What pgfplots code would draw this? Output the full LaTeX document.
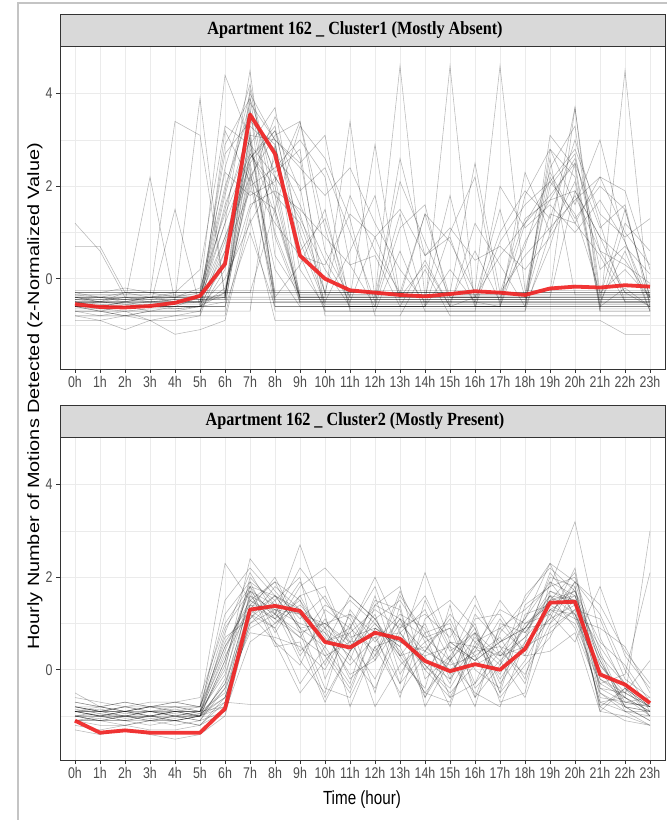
\documentclass[border=0pt]{standalone}
\usepackage{fontspec}
\setmainfont{Liberation Sans}[FakeStretch=0.8]
\newfontfamily\ytfont{Liberation Sans}[FakeStretch=1.22]
\newfontfamily\stfont{Liberation Serif}[FakeStretch=0.87]
\usepackage{pgfplots}
\usepackage{pgfplotstable}
\pgfplotsset{compat=1.18}
\definecolor{stripgray}{HTML}{D9D9D9}
\definecolor{borderc}{HTML}{333333}
\definecolor{gridc}{HTML}{EBEBEB}
\definecolor{labelc}{HTML}{4D4D4D}
\definecolor{meanred}{RGB}{240,36,36}
\definecolor{framec}{HTML}{C4C4C4}

% Cluster 1: one row per day, hours 0h..23h
\pgfplotstableread[header=false]{
-0.45 -0.45 -0.45 -0.45 -0.45 -0.45 -0.45 3.9 2.2 -0.45 -0.45 -0.45 -0.45 -0.45 -0.45 -0.45 -0.45 -0.45 -0.45 -0.45 -0.45 -0.45 -0.45 -0.45
-0.35 -0.35 -0.35 -0.35 -0.35 -0.35 1.2 4.5 0.5 -0.35 -0.35 -0.35 -0.35 -0.35 -0.35 -0.35 -0.35 -0.35 -0.35 2.6 -0.35 -0.35 -0.35 -0.35
-0.55 -0.55 -0.55 -0.55 -0.55 -0.55 0.3 2.9 3.7 0.8 -0.55 -0.55 -0.55 -0.55 -0.55 -0.55 -0.55 -0.55 -0.55 -0.55 -0.55 -0.55 -0.55 -0.55
-0.6 -0.6 -0.6 -0.6 -0.6 -0.4 2.7 3.4 2.9 0.2 -0.6 -0.6 -0.6 -0.6 -0.6 4.6 -0.6 -0.6 -0.6 -0.6 -0.6 -0.6 -0.6 -0.6
-0.3 -0.3 -0.3 -0.3 -0.3 -0.3 -0.3 -0.3 -0.3 -0.3 -0.3 -0.3 -0.3 -0.3 -0.3 -0.3 -0.3 -0.3 -0.3 -0.3 -0.3 -0.3 -0.3 -0.3
-0.5 -0.5 -0.5 -0.5 -0.5 -0.5 -0.5 -0.5 -0.5 -0.5 -0.5 -0.5 -0.5 -0.5 -0.5 -0.5 -0.5 -0.5 -0.5 -0.5 -0.5 -0.5 -0.5 -0.5
-0.65 -0.65 -0.7 -0.65 -0.65 -0.6 -0.5 2.2 3.1 3.4 1.1 -0.65 -0.65 -0.65 -0.65 -0.65 -0.65 -0.65 -0.65 -0.65 -0.65 -0.65 -0.65 -0.65
1.2 0.6 -0.4 -0.4 -0.4 -0.4 -0.4 4.1 1.5 -0.4 -0.4 -0.4 -0.4 4.6 -0.4 -0.4 -0.4 -0.4 -0.4 -0.4 -0.4 -0.4 -0.4 -0.4
0.7 0.7 -0.3 -0.3 -0.3 -0.3 4.4 3.0 -0.3 -0.3 -0.3 -0.3 -0.3 -0.3 -0.3 -0.3 -0.3 -0.3 -0.3 -0.3 3.7 -0.3 -0.3 -0.3
-0.8 -0.8 -0.8 -0.8 -0.8 -0.8 -0.8 1.5 2.6 2.0 -0.8 -0.8 -0.8 -0.8 -0.8 -0.8 -0.8 -0.8 -0.8 -0.8 -0.8 -0.8 -0.8 -0.8
-0.4 -0.5 -0.3 -0.4 -0.4 -0.3 2.0 3.6 1.0 -0.4 -0.4 3.4 -0.4 -0.4 -0.4 -0.4 -0.4 -0.4 -0.4 -0.4 -0.4 -0.4 -0.4 -0.4
-0.25 -0.25 -0.25 -0.25 -0.25 -0.25 -0.25 -0.25 -0.25 -0.25 -0.25 -0.25 -0.25 -0.25 -0.25 -0.25 -0.25 4.6 -0.25 -0.25 -0.25 -0.25 -0.25 -0.25
-0.7 -0.7 -0.7 -0.7 -0.7 -0.7 0.8 2.4 -0.7 -0.7 -0.7 -0.7 -0.7 -0.7 -0.7 -0.7 -0.7 -0.7 -0.7 -0.7 -0.7 -0.7 4.5 -0.7
-0.45 -0.5 -0.55 -0.5 -0.45 3.9 -0.45 -0.45 -0.45 -0.45 -0.45 -0.45 -0.45 -0.45 -0.45 -0.45 -0.45 -0.45 -0.45 -0.45 -0.45 -0.45 -0.45 -0.45
-0.35 -0.35 -0.35 -0.35 3.4 3.1 -0.35 3.2 -0.35 -0.35 -0.35 -0.35 -0.35 -0.35 -0.35 -0.35 -0.35 -0.35 -0.35 -0.35 -0.35 -0.35 -0.35 -0.35
-0.5 -0.6 -0.5 -0.6 -0.5 -0.4 1.5 3.3 2.8 1.6 0.4 -0.5 0.9 -0.4 0.3 -0.6 -0.4 0.5 1.2 2.1 1.4 -0.3 0.2 -0.4
-0.6 -0.7 -0.6 -0.7 -0.6 -0.6 0.9 2.5 3.2 1.9 2.4 1.0 -0.5 1.4 -0.6 0.2 -0.5 -0.6 0.8 1.7 2.6 0.6 -0.3 -0.6
-0.4 -0.4 -0.5 -0.4 -0.3 -0.3 2.3 1.8 2.1 3.4 0.6 -0.4 -0.4 2.1 0.8 -0.4 -0.4 1.5 -0.4 -0.4 1.9 0.9 0.4 -0.4
-0.7 -0.8 -0.7 -0.9 -0.8 -0.7 0.2 3.1 3.0 2.5 3.1 0.3 0.5 -0.6 -0.6 1.0 2.2 -0.6 -0.6 2.8 2.2 -0.5 0.6 -0.7
-0.5 -0.5 -0.5 -0.5 -0.5 -0.5 2.9 3.9 0.9 -0.5 -0.5 0.6 1.8 -0.5 -0.5 -0.5 -0.5 1.0 1.9 1.3 3.0 1.2 -0.5 -0.5
-0.3 -0.4 -0.3 -0.3 -0.4 -0.2 1.4 2.7 1.8 1.2 -0.3 1.8 0.6 -0.3 1.4 0.8 -0.3 -0.3 0.5 1.1 1.7 2.2 1.0 0.3
-0.6 -0.7 -0.8 -0.7 -0.7 -0.6 -0.3 2.0 2.4 3.0 2.2 -0.6 -0.6 -0.6 0.4 -0.6 1.2 0.3 -0.6 0.7 2.5 -0.6 -0.2 -0.6
-0.8 -0.9 -0.8 -0.9 -0.9 -0.8 3.2 2.1 -0.4 0.3 1.5 -0.7 -0.7 0.6 -0.7 -0.7 -0.7 2.0 1.1 1.6 1.0 1.7 0.8 -0.7
-0.4 -0.4 -0.4 -0.4 -0.4 -0.4 0.4 2.6 3.3 0.6 1.3 -0.4 2.9 -0.4 -0.4 1.8 -0.4 -0.4 -0.4 2.4 3.3 -0.4 1.5 -0.4
-0.5 -0.6 -0.5 -0.5 -0.5 -0.5 1.8 3.8 3.0 2.4 1.8 2.4 1.2 0.2 -0.5 -0.5 0.6 -0.5 -0.5 1.4 1.2 0.5 -0.5 -0.5
-0.6 -0.6 -0.6 -0.6 1.5 -0.6 -0.2 1.6 1.9 1.5 0.9 0.3 -0.6 1.1 1.6 -0.6 -0.6 -0.6 2.3 1.0 2.1 -0.6 1.2 0.6
-0.3 -0.3 -0.2 -0.3 -0.3 0.2 3.3 2.9 2.2 1.4 -0.3 -0.3 -0.3 -0.3 -0.3 -0.3 2.5 -0.3 -0.3 -0.3 -0.3 -0.3 -0.3 -0.3
-0.7 -0.7 -0.8 -0.7 -0.7 -0.7 -0.7 3.6 2.3 2.8 -0.7 -0.7 -0.7 -0.7 -0.7 -0.7 -0.7 -0.7 -0.7 3.1 2.4 -0.7 -0.7 -0.7
-0.5 -0.5 -0.5 -0.4 -0.5 -0.4 0.9 2.2 1.2 0.5 0.3 1.4 0.9 1.5 0.5 1.1 0.4 0.7 0.2 0.9 1.8 0.6 0.3 -0.1
-0.4 -0.5 -0.4 -0.5 -0.5 -0.5 2.4 4.2 1.8 -0.5 -0.5 -0.5 -0.5 -0.5 -0.5 -0.5 -0.5 -0.5 -0.5 -0.5 -0.5 -0.5 -0.5 -0.5
-0.55 -0.6 -0.6 -0.6 -0.6 -0.6 0.0 1.2 2.2 1.3 0.2 -0.6 -0.6 2.6 0.5 0.9 -0.6 -0.6 1.2 1.8 2.5 1.1 1.6 -0.6
-0.5 -0.5 -0.5 2.2 -0.5 -0.5 1.2 2.6 3.2 1.0 -0.5 -0.5 -0.5 -0.5 -0.5 -0.5 -0.5 -0.5 -0.5 -0.5 -0.5 -0.5 -0.5 -0.5
-0.8 -0.8 -0.8 -0.8 -0.8 -0.8 0.6 1.9 1.5 3.3 2.6 1.3 -0.8 -0.8 0.2 -0.8 -0.8 -0.8 -0.8 -0.8 -0.8 -0.8 -0.8 -0.8
-0.6 -0.6 -0.6 -0.6 -0.6 -0.6 -0.6 1.0 -0.6 -0.6 -0.6 -0.6 -0.6 -0.6 -0.6 -0.6 -0.6 0.8 1.6 2.1 2.8 1.4 0.9 1.3
-0.4 -0.4 -0.4 -0.4 -0.4 -0.4 -0.4 2.8 1.4 -0.4 -0.4 -0.4 -0.4 -0.4 1.4 -0.4 -0.4 -0.4 0.7 2.3 1.3 2.0 1.5 -0.4
-0.5 -0.5 -0.5 -0.5 -0.5 -0.5 -0.3 2.3 -0.5 -0.5 -0.5 -0.5 -0.5 -0.5 -0.5 -0.5 -0.5 -0.5 1.8 2.8 1.6 3.0 0.8 -0.5
-0.7 -0.7 -0.7 -0.7 -0.7 -0.7 -0.7 -0.7 2.9 0.5 -0.7 -0.7 -0.7 -0.7 -0.7 -0.7 -0.7 -0.7 -0.7 1.0 3.7 -0.7 -0.7 -0.7
-0.45 -0.45 -0.45 -0.45 -0.45 -0.45 -0.45 3.1 -0.45 -0.45 -0.45 -0.45 -0.45 -0.45 -0.45 -0.45 -0.45 -0.45 -0.45 2.0 2.7 0.2 0.7 0.1
-0.3 -0.3 -0.3 -0.3 -0.3 -0.3 -0.3 -0.3 1.5 -0.3 -0.3 -0.3 -0.3 -0.3 -0.3 -0.3 -0.3 -0.3 1.3 1.7 1.9 0.9 -0.3 -0.3
-0.9 -0.9 -1.1 -0.9 -1.2 -1.1 -0.9 1.3 -0.9 -0.9 -0.9 -0.9 -0.9 -0.9 -0.9 -0.9 -0.9 -0.9 -0.9 -0.9 -0.9 -0.9 -1.2 -1.2
-0.6 -0.6 -0.6 -0.6 -0.6 -0.6 -0.6 2.5 0.2 -0.6 -0.6 -0.6 -0.6 -0.6 -0.6 -0.6 -0.6 -0.6 -0.6 2.2 1.2 2.2 1.9 0.2
-0.4 -0.45 -0.4 -0.45 -0.4 -0.45 -0.4 -0.4 -0.4 -0.4 -0.4 -0.4 -0.4 -0.4 -0.4 -0.4 -0.4 -0.4 -0.4 -0.4 -0.4 -0.4 -0.4 -0.4
-0.6 -0.65 -0.6 -0.6 -0.65 -0.6 1.6 3.0 -0.6 -0.6 -0.6 -0.6 -0.6 -0.6 -0.6 -0.6 -0.6 -0.6 -0.6 -0.6 -0.6 -0.6 -0.6 -0.6
-0.35 -0.4 -0.45 -0.4 -0.35 -0.4 -0.35 2.1 3.5 2.6 -0.35 -0.35 -0.35 -0.35 -0.35 -0.35 -0.35 -0.35 -0.35 -0.35 -0.35 -0.35 -0.35 -0.35
-0.5 -0.55 -0.6 -0.55 -0.5 -0.5 0.6 3.7 -0.5 -0.5 -0.5 -0.5 -0.5 -0.5 -0.5 -0.5 -0.5 -0.5 -0.5 -0.5 -0.5 -0.5 -0.5 -0.5
-0.55 -0.5 -0.55 -0.6 -0.55 -0.5 -0.4 2.7 2.0 -0.55 -0.55 -0.55 -0.55 -0.55 -0.55 -0.55 -0.55 -0.55 -0.55 -0.55 -0.55 -0.55 -0.55 -0.55
-0.45 -0.4 -0.45 -0.5 -0.45 -0.4 1.9 4.0 3.0 -0.45 -0.45 -0.45 -0.45 -0.45 -0.45 -0.45 -0.45 -0.45 -0.45 -0.45 -0.45 -0.45 -0.45 -0.45
}\rawA
\pgfplotstabletranspose\tabA\rawA

% Cluster 2
\pgfplotstableread[header=false]{
-0.9 -1.0 -0.9 -1.0 -0.9 -1.0 0.2 1.8 1.6 1.2 1.0 0.6 1.4 1.1 0.2 -0.2 0.5 0.3 0.9 1.7 1.5 -0.3 -0.6 -0.9
-0.8 -0.9 -0.9 -0.8 -0.9 -0.9 -0.5 1.4 1.9 1.5 0.4 -0.4 0.9 0.5 -0.6 0.3 1.0 -0.5 0.2 1.2 1.9 0.1 -0.5 -0.8
-1.0 -1.1 -1.0 -1.1 -1.1 -1.0 0.8 2.1 1.2 0.7 1.4 1.1 0.2 1.6 0.8 -0.6 -0.3 0.4 1.1 1.9 1.2 -0.7 -0.9 -1.0
-0.9 -0.9 -0.8 -0.9 -1.0 -0.9 -0.8 1.0 1.5 2.0 -0.2 0.9 1.8 0.3 -0.5 -0.7 0.6 0.9 0.4 1.5 1.7 0.6 0.1 -0.7
-1.1 -1.2 -1.2 -1.1 -1.2 -1.1 -0.9 0.6 1.0 1.4 0.8 0.3 -0.4 0.8 1.3 0.2 -0.5 -0.8 0.6 2.1 1.4 -0.8 -0.4 -1.0
-0.7 -0.8 -0.7 -0.8 -0.8 -0.8 1.2 1.9 0.8 1.6 1.8 0.5 1.2 -0.3 0.4 1.1 0.0 -0.4 1.4 1.8 2.0 0.4 -0.8 -0.9
-0.9 -1.0 -1.0 -1.0 -0.9 -1.0 -0.7 -0.75 -0.75 -0.75 -0.75 -0.75 -0.75 -0.75 -0.75 -0.75 -0.75 -0.75 -0.75 -0.75 -0.75 -0.75 -0.75 -0.75
-1.0 -1.0 -1.1 -1.0 -1.0 -1.1 -0.4 1.6 1.3 0.2 -0.5 1.3 0.6 1.2 0.9 -0.1 0.7 0.2 -0.6 0.9 1.3 1.1 -0.2 -0.6
-0.5 -0.8 -0.9 -0.8 -0.7 -0.8 0.5 1.3 2.0 0.9 0.5 -0.3 1.4 1.8 -0.2 0.3 -0.8 1.0 0.8 1.6 0.9 -0.5 -0.8 -1.1
-1.1 -1.1 -1.1 -1.2 -1.1 -1.2 -0.9 1.2 0.6 -0.5 0.2 0.8 -0.8 0.1 0.6 0.9 0.3 -0.6 0.1 0.7 1.8 -0.9 -0.4 -0.8
-0.8 -0.9 -0.8 -0.9 -0.9 -0.8 2.3 1.5 1.1 1.9 0.9 1.5 1.0 0.4 -0.5 0.2 1.4 0.5 -0.3 1.3 1.6 0.2 -0.7 -0.6
-0.9 -0.9 -1.0 -0.9 -0.9 -0.9 0.0 2.4 1.7 1.1 1.6 0.6 -0.2 0.9 1.6 0.5 -0.6 0.8 1.5 2.3 1.1 0.9 0.5 -0.5
-1.0 -1.0 -1.0 -1.1 -1.0 -1.0 -0.6 0.9 1.2 2.7 1.2 -0.8 0.5 -0.5 0.3 -0.8 0.8 -0.2 0.6 1.1 2.2 -0.5 -0.9 -0.9
-1.2 -1.3 -1.2 -1.3 -1.3 -1.2 -0.7 1.7 0.5 0.6 -0.7 0.4 1.5 1.3 -0.6 0.6 0.2 1.1 0.3 0.4 0.8 -0.9 -1.0 -1.2
-0.8 -0.8 -0.9 -0.8 -0.8 -0.9 0.7 1.1 1.8 1.3 0.1 1.2 0.8 -0.6 1.1 1.5 0.9 -0.7 -0.5 1.7 1.4 0.5 -0.3 -0.7
-1.0 -1.1 -1.1 -1.1 -1.0 -1.1 -0.2 2.0 1.4 0.4 0.9 -0.2 0.3 1.7 0.6 -0.3 1.2 0.6 0.9 1.0 1.9 1.2 0.0 -0.9
-0.9 -1.0 -0.9 -0.9 -1.0 -0.9 0.3 1.3 0.9 1.8 2.2 1.6 1.1 0.2 -0.4 1.4 -0.6 0.1 1.6 2.2 1.7 -0.2 -0.6 -1.0
-1.1 -1.0 -1.1 -1.0 -1.1 -1.0 -1.0 -1.0 -1.0 -1.0 -1.0 -1.0 -1.0 -1.0 -1.0 -1.0 -1.0 -1.0 -1.0 -1.0 -1.0 -1.0 -1.0 -1.0
-0.6 -0.7 -0.8 -0.7 -0.7 -0.6 1.0 1.8 0.6 0.1 1.3 0.9 2.0 0.8 0.1 -0.4 0.5 1.3 1.0 1.2 0.6 1.8 0.3 -0.4
-0.9 -0.9 -0.9 -0.8 -0.9 -0.9 0.5 1.5 1.9 0.8 -0.6 0.4 1.1 1.5 0.7 0.9 -0.4 0.2 0.7 2.0 1.8 -0.6 -0.7 -0.8
-1.0 -1.1 -1.0 -1.0 -1.1 -1.0 -0.8 1.4 1.1 1.5 0.7 0.1 0.7 -0.3 1.5 0.4 0.8 -0.5 1.2 1.4 1.1 0.0 -0.8 -1.1
-0.8 -0.9 -0.9 -1.0 -0.9 -0.9 1.5 2.2 1.6 0.9 1.0 1.2 0.3 1.1 0.0 -0.6 0.4 1.5 0.8 1.5 2.1 -0.4 -0.5 0.2
-1.1 -1.1 -1.2 -1.1 -1.1 -1.2 -0.6 1.0 1.3 1.2 0.3 -0.5 0.9 0.6 0.4 0.1 0.3 0.7 -0.2 1.9 1.6 0.3 -0.9 -1.2
-0.9 -0.8 -0.9 -0.9 -0.8 -0.9 -0.1 1.6 1.0 1.6 0.6 0.8 1.3 0.9 1.2 0.7 1.6 0.3 0.5 0.8 1.3 -0.7 -0.6 3.0
-1.0 -1.0 -0.9 -1.0 -1.0 -1.0 0.2 1.9 1.5 0.3 1.1 0.2 1.6 -0.1 0.8 1.0 -0.3 0.9 1.3 1.8 3.2 0.7 -0.4 -0.8
-0.9 -1.0 -1.0 -0.9 -1.0 -1.0 -0.4 0.8 0.7 0.5 0.0 1.0 -0.5 1.4 -0.8 0.2 0.9 -0.3 0.5 1.3 1.0 -0.3 -0.1 2.1
-1.3 -1.4 -1.3 -1.4 -1.5 -1.4 -1.0 1.1 1.6 0.9 -0.4 -0.6 0.5 0.7 0.1 -0.5 0.1 0.4 -0.1 1.0 1.5 -0.8 -1.1 -1.2
-0.7 -0.8 -0.7 -0.8 -0.7 -0.8 0.9 1.7 1.2 2.2 1.5 0.7 0.9 0.5 2.1 0.6 0.2 0.6 1.1 2.3 1.9 1.4 0.4 -0.3
-0.8 -0.9 -0.8 -0.8 -0.8 -0.8 0.6 1.4 1.3 1.0 0.8 -0.1 0.2 1.0 0.4 1.2 0.6 0.1 0.9 1.6 1.2 -0.1 -0.3 -0.7
-1.0 -0.9 -1.0 -1.0 -0.9 -1.0 -0.3 1.2 0.9 -0.3 0.5 1.6 1.1 0.3 1.0 -0.2 1.1 1.2 0.4 1.1 1.4 0.2 -0.8 -0.9
-0.85 -0.95 -1.0 -0.9 -0.95 -1.0 -0.3 1.5 1.2 0.8 1.0 0.5 0.8 0.6 0.3 0.5 0.2 0.6 0.9 1.5 1.6 -0.2 -0.5 -0.8
-1.0 -0.95 -1.05 -1.0 -1.05 -0.95 0.4 1.7 1.4 1.2 0.6 0.9 0.4 1.1 0.7 0.2 0.8 0.3 0.7 1.3 1.2 0.1 -0.6 -0.9
-0.9 -0.85 -0.95 -0.9 -0.85 -0.95 -0.6 1.2 1.6 1.3 0.9 0.4 1.0 0.3 0.5 0.0 0.4 0.5 0.3 1.6 1.5 -0.4 -0.7 -0.8
-1.1 -1.05 -1.0 -1.05 -1.1 -1.0 0.1 1.8 1.1 0.7 0.3 0.6 0.7 0.8 0.0 0.6 0.5 -0.1 1.0 1.4 1.7 0.3 -0.3 -1.0
}\rawB
\pgfplotstabletranspose\tabB\rawB

\pgfplotsset{
  panel/.style={
    scale only axis, width=605pt, height=323pt, anchor=south west,
    xmin=-0.6, xmax=23.6, ymin=-1.95, ymax=5.03,
    xtick={0,...,23},
    xticklabels={0h,1h,2h,3h,4h,5h,6h,7h,8h,9h,10h,11h,12h,13h,14h,15h,16h,17h,18h,19h,20h,21h,22h,23h},
    ytick={0,2,4}, minor ytick={-1,1,3},
    xmajorgrids, ymajorgrids, yminorgrids,
    major grid style={draw=gridc, line width=0.9pt},
    minor grid style={draw=gridc, line width=0.5pt},
    axis line style={draw=borderc, line width=0.9pt},
    tick align=outside, tick pos=left,
    major tick length=4pt, minor tick length=0pt,
    tick style={draw=borderc, line width=0.8pt},
    every tick label/.append style={color=labelc, font=\fontsize{15.5}{18}\selectfont},
    /pgf/number format/assume math mode=true,
    clip=true,
  },
  gline/.style={draw=black, opacity=0.28, line width=0.55pt},
  mline/.style={draw=meanred, line width=3.8pt, line join=round, opacity=0.92},
}

\begin{document}
\begin{tikzpicture}
\path[use as bounding box] (0pt,0pt) rectangle (667pt,820pt);
\draw[framec, line width=1.5pt] (18pt,0pt) -- (18pt,817pt) -- (667pt,817pt);

\begin{axis}[panel, at={(60pt,451pt)}]
\pgfplotsinvokeforeach{1,...,47}{
  \addplot[gline] table[x expr=\coordindex, y index=#1] {\tabA};
}
\addplot[mline] coordinates {(0,-0.55)(1,-0.61)(2,-0.62)(3,-0.59)(4,-0.52)(5,-0.37)(6,0.32)(7,3.55)(8,2.7)(9,0.5)(10,0.0)(11,-0.25)(12,-0.3)(13,-0.35)(14,-0.38)(15,-0.33)(16,-0.27)(17,-0.3)(18,-0.35)(19,-0.21)(20,-0.17)(21,-0.19)(22,-0.14)(23,-0.17)};
\end{axis}

\begin{axis}[panel, at={(60pt,60pt)}]
\pgfplotsinvokeforeach{1,...,34}{
  \addplot[gline] table[x expr=\coordindex, y index=#1] {\tabB};
}
\addplot[mline] coordinates {(0,-1.1)(1,-1.36)(2,-1.31)(3,-1.36)(4,-1.36)(5,-1.36)(6,-0.84)(7,1.3)(8,1.38)(9,1.27)(10,0.6)(11,0.48)(12,0.8)(13,0.67)(14,0.19)(15,-0.03)(16,0.12)(17,0.0)(18,0.45)(19,1.45)(20,1.47)(21,-0.1)(22,-0.32)(23,-0.72)};
\end{axis}

% facet strips
\draw[fill=stripgray, draw=borderc, line width=0.9pt] (60pt,774pt) rectangle (665pt,806pt);
\node[font=\stfont\bfseries\fontsize{18.6}{22}\selectfont] at (355pt,790pt) {Apartment 162 \_ Cluster1 (Mostly Absent)};
\draw[fill=stripgray, draw=borderc, line width=0.9pt] (60pt,383pt) rectangle (665pt,415pt);
\node[font=\stfont\bfseries\fontsize{18.6}{22}\selectfont] at (355pt,399pt) {Apartment 162 \_ Cluster2 (Mostly Present)};

% axis titles
\node[rotate=90, font=\ytfont\fontsize{16.3}{19}\selectfont] at (35pt,423.5pt) {Hourly Number of Motions Detected (z-Normalized Value)};
\node[font=\fontsize{19}{22}\selectfont] at (362pt,20pt) {Time (hour)};
\end{tikzpicture}
\end{document}
